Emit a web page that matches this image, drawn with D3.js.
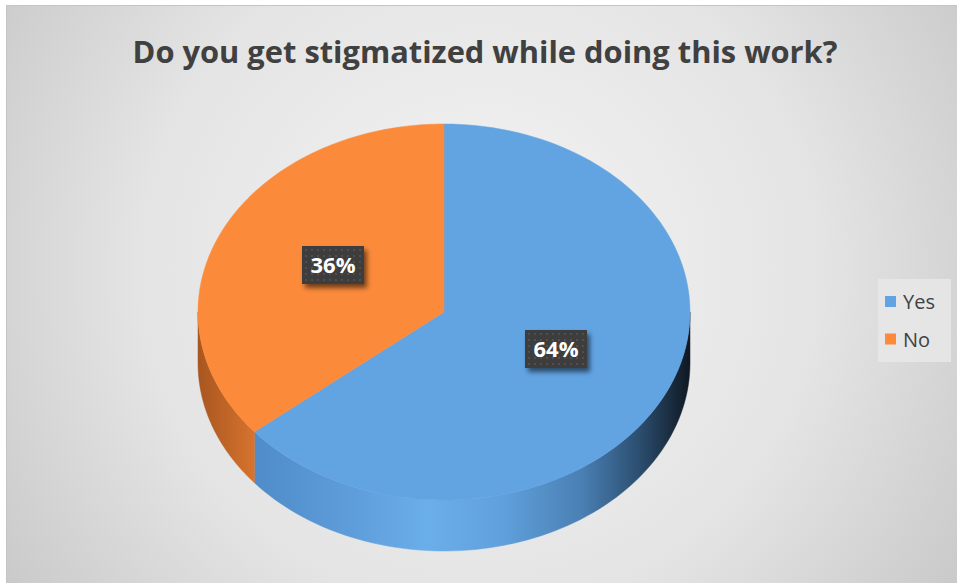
<!DOCTYPE html>
<html>
<head>
<meta charset="utf-8">
<script src="https://cdn.jsdelivr.net/npm/d3@7"></script>
<style>
  html, body { margin: 0; padding: 0; background: #ffffff; }
  svg { display: block; }
</style>
</head>
<body>
<svg id="chart" width="957" height="583"></svg>
<script>
// Survey answers and their shares
const categories = ["Yes", "No"];
const shares = [64, 36];
const labels = ["64%", "36%"];
const colors = ["#62a3e2", "#fb8a3b"];
const title = "Do you get stigmatized while doing this work?";

const svg = d3.select("#chart");
const W = 957, H = 583;
const defs = svg.append("defs");

// Chart area background: soft radial grey
const bg = defs.append("radialGradient").attr("id", "bgGrad")
  .attr("gradientUnits", "userSpaceOnUse")
  .attr("cx", 480).attr("cy", 270).attr("r", 620);
bg.append("stop").attr("offset", 0).attr("stop-color", "#f4f4f4");
bg.append("stop").attr("offset", 0.55).attr("stop-color", "#e4e4e4");
bg.append("stop").attr("offset", 1).attr("stop-color", "#c4c4c4");

svg.append("rect").attr("x", 6.5).attr("y", 5.5).attr("width", W - 6).attr("height", H - 5)
  .attr("fill", "url(#bgGrad)").attr("stroke", "#c4c4c4").attr("stroke-width", 1);

// Title
const titleText = svg.append("text")
  .attr("x", 485).attr("y", 63)
  .attr("text-anchor", "middle")
  .attr("font-family", "'Open Sans', sans-serif")
  .attr("font-weight", 700)
  .attr("font-size", 28)
  .attr("fill", "#404040")
  .text(title);
// keep the title within its band
const tw = titleText.node().getComputedTextLength();
titleText.attr("font-size", 28 * 705 / tw);

// 3D pie geometry
const cx = 444, cy = 312, rx = 246, ry = 188, depth = 51;
const pie = d3.pie().sort(null).value(d => d)(shares);

const px = a => cx + rx * Math.sin(a);
const py = a => cy - ry * Math.cos(a);

// Side wall gradients
const blueSide = defs.append("linearGradient").attr("id", "blueSide")
  .attr("gradientUnits", "userSpaceOnUse")
  .attr("x1", 250).attr("y1", 0).attr("x2", 692).attr("y2", 0);
[[0, "#4e8bc8"], [0.2, "#5c9ad8"], [0.4, "#6aaeea"], [0.56, "#61a2de"], [0.75, "#4a80b4"], [0.88, "#2c4e70"], [1, "#0e1620"]]
  .forEach(([o, c]) => blueSide.append("stop").attr("offset", o).attr("stop-color", c));
const orangeSide = defs.append("linearGradient").attr("id", "orangeSide")
  .attr("gradientUnits", "userSpaceOnUse")
  .attr("x1", 198).attr("y1", 0).attr("x2", 256).attr("y2", 0);
[[0, "#a85620"], [1, "#d8742e"]]
  .forEach(([o, c]) => orangeSide.append("stop").attr("offset", o).attr("stop-color", c));
const sideFills = ["url(#blueSide)", "url(#orangeSide)"];

function sidePath(a0, a1) {
  // visible front part only (angles between PI/2 and 3PI/2)
  const s = Math.max(a0, Math.PI / 2), e = Math.min(a1, 3 * Math.PI / 2);
  if (e <= s) return null;
  const n = 80, top = [], bot = [];
  for (let i = 0; i <= n; i++) {
    const a = s + (e - s) * i / n;
    top.push([px(a), py(a)]);
    bot.push([px(a), py(a) + depth]);
  }
  return d3.line()(top.concat(bot.reverse())) + "Z";
}

function topPath(a0, a1) {
  const n = 120, pts = [[cx, cy]];
  for (let i = 0; i <= n; i++) {
    const a = a0 + (a1 - a0) * i / n;
    pts.push([px(a), py(a)]);
  }
  return d3.line()(pts) + "Z";
}

const g = svg.append("g");
pie.forEach((d, i) => {
  const p = sidePath(d.startAngle, d.endAngle);
  if (p) g.append("path").attr("d", p).attr("fill", sideFills[i])
    .attr("stroke", sideFills[i]).attr("stroke-width", 0.5);
});
pie.forEach((d, i) => {
  g.append("path").attr("d", topPath(d.startAngle, d.endAngle))
    .attr("fill", colors[i]).attr("stroke", colors[i]).attr("stroke-width", 0.5);
});

// Data labels: dark textured boxes with a drop shadow
const dots = defs.append("pattern").attr("id", "dots")
  .attr("patternUnits", "userSpaceOnUse").attr("width", 6).attr("height", 6);
dots.append("rect").attr("width", 6).attr("height", 6).attr("fill", "#3e3e3e");
dots.append("circle").attr("cx", 3).attr("cy", 3).attr("r", 0.9).attr("fill", "#585858");

const shadow = defs.append("filter").attr("id", "shadow")
  .attr("x", "-30%").attr("y", "-30%").attr("width", "160%").attr("height", "160%");
shadow.append("feGaussianBlur").attr("in", "SourceAlpha").attr("stdDeviation", 2.5);
shadow.append("feOffset").attr("dx", 3).attr("dy", 4).attr("result", "ob");
shadow.append("feComponentTransfer").append("feFuncA").attr("type", "linear").attr("slope", 0.55);
const merge = shadow.append("feMerge");
merge.append("feMergeNode");
merge.append("feMergeNode").attr("in", "SourceGraphic");

const labelPos = [[556, 349], [333, 265]];
pie.forEach((d, i) => {
  const [lx, ly] = labelPos[i];
  const lg = svg.append("g").attr("transform", `translate(${lx},${ly})`);
  lg.append("rect").attr("x", -31).attr("y", -19).attr("width", 62).attr("height", 38)
    .attr("fill", "url(#dots)").attr("filter", "url(#shadow)");
  lg.append("text").attr("y", 8).attr("text-anchor", "middle")
    .attr("font-family", "'Open Sans', sans-serif").attr("font-weight", 700)
    .attr("font-size", 22).attr("fill", "#ffffff").text(labels[i]);
});

// Legend
const leg = svg.append("g");
leg.append("rect").attr("x", 878).attr("y", 279).attr("width", 73).attr("height", 83)
  .attr("fill", "#e8e8e8").attr("opacity", 0.85);
categories.forEach((c, i) => {
  const y = 301.5 + i * 37.5;
  leg.append("rect").attr("x", 885).attr("y", y - 5.5).attr("width", 11).attr("height", 11)
    .attr("fill", colors[i]);
  leg.append("text").attr("x", 903).attr("y", y + 7.5)
    .attr("font-family", "'Open Sans', sans-serif").attr("font-size", 20)
    .attr("fill", "#404040").text(c);
});
</script>
</body>
</html>
